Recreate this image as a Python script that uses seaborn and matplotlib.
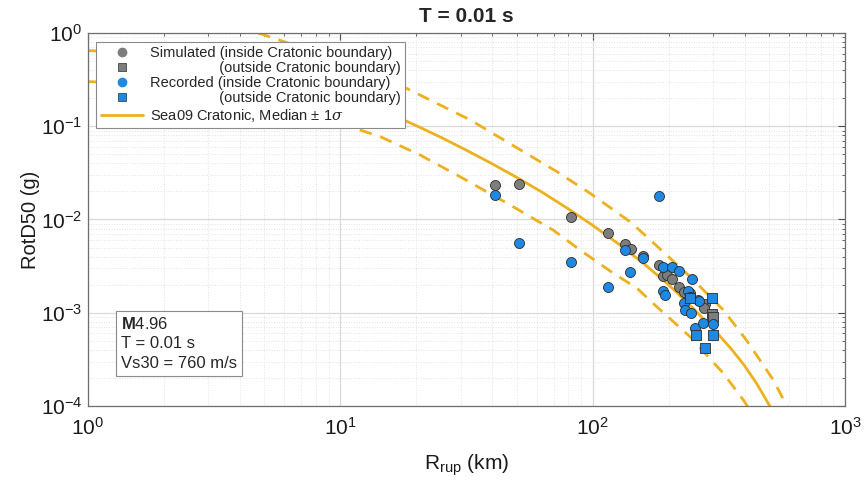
import numpy as np
import pandas as pd
import matplotlib
matplotlib.use("Agg")
import matplotlib.pyplot as plt
from matplotlib.lines import Line2D
from matplotlib.ticker import LogLocator, LogFormatterMathtext, NullFormatter
import seaborn as sns

# ---------------- data ----------------
# Simulated, inside cratonic boundary
sim_in_R = [41.0, 51.2, 82.3, 114.6, 134.0, 141.8, 158.0, 183.4, 189.6, 196.6,
            205.8, 219.4, 230.3, 243.2, 262.4, 278.9, 276.4]
sim_in_Y = [0.0233, 0.0238, 0.0106, 0.00722, 0.00551, 0.00483, 0.00409, 0.00325,
            0.00250, 0.00254, 0.00228, 0.00187, 0.00168, 0.00162, 0.00137, 0.00124, 0.00113]
# Simulated, outside cratonic boundary
sim_out_R = [297.5, 299.0]
sim_out_Y = [0.00097, 0.00090]
# Recorded, inside cratonic boundary
rec_in_R = [41.0, 51.2, 82.3, 114.6, 134.0, 140.7, 183.4, 158.8, 189.6, 205.8,
            219.4, 248.4, 189.6, 193.6, 239.5, 243.2, 264.1, 230.3, 232.4, 245.5,
            254.6, 274.7, 299.2]
rec_in_Y = [0.0183, 0.00553, 0.00353, 0.00190, 0.00471, 0.00272, 0.01787, 0.00384,
            0.00312, 0.00307, 0.00281, 0.00228, 0.00172, 0.00155, 0.00172, 0.00149,
            0.00134, 0.00126, 0.00107, 0.000986, 0.000681, 0.000782, 0.000752]
# Recorded, outside cratonic boundary
rec_out_R = [298.2, 243.2, 256.9, 299.2, 279.7]
rec_out_Y = [0.00143, 0.00143, 0.000577, 0.000577, 0.000422]

# Sea09 Cratonic model curves
med_R = [1.0, 2.0, 3.98, 7.08, 10.0, 12.59, 15.85, 19.95, 25.12, 31.62, 39.81,
         50.12, 63.10, 79.43, 100.0, 125.9, 158.5, 199.5, 251.2, 316.2, 354.8,
         398.1, 446.7, 501.2, 562.3]
med_Y = [0.646, 0.617, 0.490, 0.316, 0.229, 0.178, 0.1349, 0.1019, 0.0757,
         0.0553, 0.0398, 0.0282, 0.01959, 0.01318, 0.00867, 0.00553, 0.00341,
         0.00201, 0.001104, 0.000579, 0.000407, 0.000275, 0.000174, 0.000102,
         0.0000562]
up_R = [1.0, 2.0, 4.39, 7.08, 10.0, 18.3, 22.7, 32.7, 72.1, 97.7, 140.6, 163.7,
        243.2, 329.6, 408.3, 520.0, 579.4, 602.6]
up_Y = [1.41, 1.35, 1.07, 0.692, 0.501, 0.255, 0.191, 0.117, 0.0326, 0.0191,
        0.00946, 0.00655, 0.00244, 0.00107, 0.000501, 0.000190, 0.000108, 0.0000871]
lo_R = [1.0, 2.0, 3.98, 7.08, 10.0, 14.4, 20.7, 29.8, 47.1, 69.7, 89.1, 120.8,
        149.6, 179.5, 243.2, 329.6, 395.4, 416.9]
lo_Y = [0.301, 0.285, 0.229, 0.148, 0.107, 0.0773, 0.0492, 0.0288, 0.0143,
        0.00771, 0.00471, 0.00265, 0.00184, 0.00116, 0.000553, 0.000224,
        0.000116, 0.0000933]

GOLD = "#EDB120"
GRAY = "#7d7d7d"
BLUE = "#1f88e3"
EDGE = "#2b2b2b"

sns.set_style("white")
plt.rcParams["font.family"] = ["Liberation Sans", "DejaVu Sans"]
plt.rcParams["mathtext.fontset"] = "custom"
plt.rcParams["mathtext.rm"] = "Liberation Sans"
plt.rcParams["mathtext.it"] = "DejaVu Serif:italic"
plt.rcParams["mathtext.bf"] = "Liberation Sans:bold"

fig = plt.figure(figsize=(8.67, 4.83), dpi=100)
ax = fig.add_axes([88 / 867, 1 - 406 / 483, (845 - 88) / 867, (406 - 33) / 483])

# curves
sns.lineplot(x=med_R, y=med_Y, ax=ax, color=GOLD, lw=2.0, sort=False,
             estimator=None, zorder=2)
for rr, yy in [(up_R, up_Y), (lo_R, lo_Y)]:
    sns.lineplot(x=rr, y=yy, ax=ax, color=GOLD, lw=2.0, sort=False,
                 estimator=None, zorder=2, dashes=False, linestyle=(0, (4.5, 3.2)))

# points
ms = 52
sns.scatterplot(x=sim_in_R, y=sim_in_Y, ax=ax, color=GRAY, marker="o", s=ms,
                edgecolor=EDGE, linewidth=0.6, zorder=3)
sns.scatterplot(x=sim_out_R, y=sim_out_Y, ax=ax, color=GRAY, marker="s", s=ms,
                edgecolor=EDGE, linewidth=0.6, zorder=3)
sns.scatterplot(x=rec_in_R, y=rec_in_Y, ax=ax, color=BLUE, marker="o", s=ms,
                edgecolor=EDGE, linewidth=0.6, zorder=4)
sns.scatterplot(x=rec_out_R, y=rec_out_Y, ax=ax, color=BLUE, marker="s", s=ms,
                edgecolor=EDGE, linewidth=0.6, zorder=4)

ax.set_xscale("log")
ax.set_yscale("log")
ax.set_xlim(1, 1000)
ax.set_ylim(1e-4, 1)

ax.xaxis.set_major_locator(LogLocator(base=10, numticks=10))
ax.yaxis.set_major_locator(LogLocator(base=10, numticks=10))
ax.xaxis.set_minor_locator(LogLocator(base=10, subs=np.arange(2, 10), numticks=20))
ax.yaxis.set_minor_locator(LogLocator(base=10, subs=np.arange(2, 10), numticks=20))
ax.xaxis.set_major_formatter(LogFormatterMathtext())
ax.yaxis.set_major_formatter(LogFormatterMathtext())
ax.xaxis.set_minor_formatter(NullFormatter())
ax.yaxis.set_minor_formatter(NullFormatter())

ax.grid(True, which="major", color="#d9d9d9", lw=0.9, ls="-", zorder=0)
ax.grid(True, which="minor", color="#e3e3e3", lw=0.7, ls=":", zorder=0)
ax.set_axisbelow(True)
ax.tick_params(which="both", direction="in", top=True, right=True,
               colors="#4d4d4d", labelcolor="#1a1a1a")
ax.tick_params(which="major", length=5, width=0.8, labelsize=15)
ax.tick_params(axis="x", which="major", pad=8)
ax.tick_params(axis="y", which="major", pad=4)
ax.tick_params(which="minor", length=2.5, width=0.6)
for sp in ax.spines.values():
    sp.set_color("#6e6e6e")
    sp.set_linewidth(0.9)

ax.set_xlabel(r"R$_{\mathrm{rup}}$ (km)", fontsize=15, labelpad=10, color="#1a1a1a")
ax.set_ylabel("RotD50 (g)", fontsize=14.5, color="#1a1a1a")
ax.yaxis.set_label_coords(-0.063, 0.5)
ax.set_title("T = 0.01 s", fontsize=15, fontweight="bold", pad=8)

# legend
handles = [
    Line2D([], [], ls="none", marker="o", ms=6, mfc=GRAY, mec=GRAY),
    Line2D([], [], ls="none", marker="s", ms=6, mfc=GRAY, mec=EDGE, mew=0.5),
    Line2D([], [], ls="none", marker="o", ms=6, mfc=BLUE, mec=BLUE),
    Line2D([], [], ls="none", marker="s", ms=6, mfc=BLUE, mec=EDGE, mew=0.5),
    Line2D([], [], color=GOLD, lw=2.0),
]
pad = "\u2002" * 9 + "\u2009" * 1
labels = [
    "Simulated (inside Cratonic boundary)",
    pad + "(outside Cratonic boundary)",
    "Recorded (inside Cratonic boundary)",
    pad + "(outside Cratonic boundary)",
    r"Sea09 Cratonic, Median $\pm$ 1$\sigma$",
]
leg = ax.legend(handles, labels, loc="upper left", bbox_to_anchor=(0.011, 0.977),
                fontsize=10.5, frameon=True, fancybox=False, framealpha=1,
                edgecolor="#8a8a8a", handlelength=2.9, handletextpad=0.5,
                borderpad=0.3, labelspacing=0.08, borderaxespad=0)
leg.get_frame().set_linewidth(0.8)
leg.set_zorder(10)

# annotation box
ax.text(0.0436, 0.241, "$\\mathbf{M}$4.96\nT = 0.01 s\nVs30 = 760 m/s",
        transform=ax.transAxes, fontsize=12, va="top", ha="left",
        linespacing=1.35, zorder=10,
        bbox=dict(boxstyle="square,pad=0.3", fc="white", ec="#8a8a8a", lw=0.8))

fig.savefig("out.png", dpi=100)
